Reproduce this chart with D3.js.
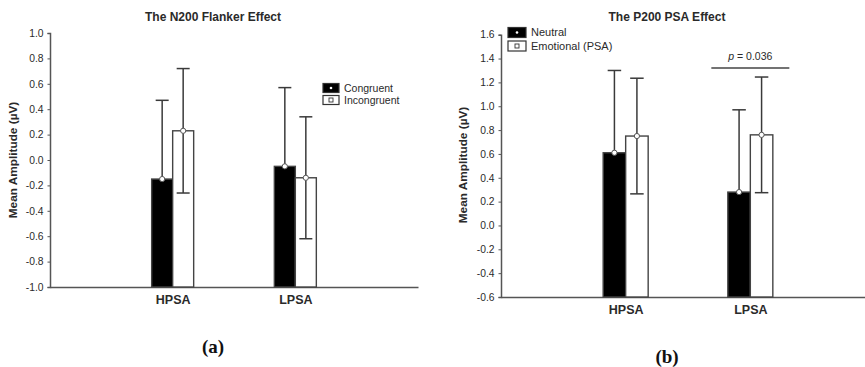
<!DOCTYPE html>
<html><head><meta charset="utf-8">
<script src="https://cdn.jsdelivr.net/npm/d3@7"></script>
<style>
html,body{margin:0;padding:0;background:#fff;}
svg{display:block;font-family:"Liberation Sans",Arial,sans-serif;}
</style></head>
<body>
<svg id="chart" width="865" height="367"></svg>
<script>
// ---------- data ----------
const groups = ["HPSA", "LPSA"];

// Panel (a): The N200 Flanker Effect
const n200Series = ["Congruent", "Incongruent"];
const n200Congruent = [-0.15, -0.05];
const n200CongruentErr = [0.62, 0.62];
const n200Incongruent = [0.23, -0.14];
const n200IncongruentErr = [0.49, 0.48];
const n200Ticks = [-1.0, -0.8, -0.6, -0.4, -0.2, 0.0, 0.2, 0.4, 0.6, 0.8, 1.0];
const n200TickLabels = ["-1.0", "-0.8", "-0.6", "-0.4", "-0.2", "0.0", "0.2", "0.4", "0.6", "0.8", "1.0"];

// Panel (b): The P200 PSA Effect
const p200Series = ["Neutral", "Emotional (PSA)"];
const p200Neutral = [0.61, 0.28];
const p200NeutralErr = [0.69, 0.69];
const p200Emotional = [0.75, 0.76];
const p200EmotionalErr = [0.485, 0.485];
const p200Ticks = [-0.6, -0.4, -0.2, 0.0, 0.2, 0.4, 0.6, 0.8, 1.0, 1.2, 1.4, 1.6];
const p200TickLabels = ["-0.6", "-0.4", "-0.2", "0.0", "0.2", "0.4", "0.6", "0.8", "1.0", "1.2", "1.4", "1.6"];
const p200Sig = { label: "= 0.036", group: "LPSA" };

const yLabel = "Mean Amplitude (µV)";

// ---------- drawing ----------
const svg = d3.select("#chart");
const TXT = "#2a2a2a";
const AX = "#555";
const ERR = "#3a3a3a";

function panel(cfg) {
  const g = svg.append("g");
  const x = d3.scalePoint().domain(groups).range([cfg.x0, cfg.x1]).padding(1);
  const y = d3.scaleLinear().domain(cfg.domain).range([cfg.yBottom, cfg.yTop]);

  // title
  g.append("text").attr("x", cfg.titleX).attr("y", 21)
    .attr("text-anchor", "middle").attr("font-weight", "bold")
    .attr("font-size", "12px").attr("fill", TXT).text(cfg.title);

  // y axis
  const yAxis = d3.axisLeft(y).tickValues(cfg.ticks).tickSize(2.5).tickPadding(4)
    .tickFormat((d, i) => cfg.tickLabels[i]);
  const ya = g.append("g").attr("transform", `translate(${cfg.x0},0)`).call(yAxis);
  ya.select(".domain").attr("stroke", AX).attr("stroke-width", 1.5);
  ya.selectAll(".tick line").attr("stroke", AX);
  ya.selectAll(".tick text").attr("font-size", "10.3px").attr("fill", TXT)
    .attr("font-family", "Liberation Sans, Arial, sans-serif");

  // x axis baseline
  const xAxis = d3.axisBottom(x).tickSize(0).tickPadding(8);
  const xa = g.append("g").attr("transform", `translate(0,${cfg.yBottom})`).call(xAxis);
  xa.select(".domain").attr("stroke", AX).attr("stroke-width", 1.5);
  xa.selectAll(".tick text").attr("font-size", "12.5px").attr("font-weight", "bold")
    .attr("fill", TXT).attr("font-family", "Liberation Sans, Arial, sans-serif");

  // y label
  g.append("text")
    .attr("transform", `translate(${cfg.yLabelX},${cfg.yLabelY}) rotate(-90)`)
    .attr("text-anchor", "middle").attr("font-weight", "bold")
    .attr("font-size", "11.8px").attr("fill", TXT).text(yLabel);

  // bars
  const inner = d3.scaleBand().domain(cfg.series).range([-cfg.bw, cfg.bw]).padding(0);
  const fills = ["#000", "#fff"];
  cfg.values.forEach((vals, si) => {
    const s = cfg.series[si];
    groups.forEach((grp, gi) => {
      const bx = x(grp) + inner(s);
      const w = inner.bandwidth();
      const v = vals[gi];
      const cx = bx + w / 2;
      g.append("rect").attr("x", bx).attr("y", y(v)).attr("width", w)
        .attr("height", y(cfg.domain[0]) - y(v))
        .attr("fill", fills[si]).attr("stroke", "#444").attr("stroke-width", 1.4);
      // error bar
      const e = cfg.errs[si][gi];
      const cap = cfg.cap;
      const lowCol = si === 0 ? "#000" : ERR;
      g.append("line").attr("x1", cx).attr("x2", cx).attr("y1", y(v)).attr("y2", y(v - e))
        .attr("stroke", lowCol).attr("stroke-width", 1.5);
      g.append("line").attr("x1", cx - cap / 2).attr("x2", cx + cap / 2)
        .attr("y1", y(v - e)).attr("y2", y(v - e)).attr("stroke", lowCol).attr("stroke-width", 1.5);
      g.append("line").attr("x1", cx).attr("x2", cx).attr("y1", y(v)).attr("y2", y(v + e))
        .attr("stroke", ERR).attr("stroke-width", 1.5);
      g.append("line").attr("x1", cx - cap / 2).attr("x2", cx + cap / 2)
        .attr("y1", y(v + e)).attr("y2", y(v + e)).attr("stroke", ERR).attr("stroke-width", 1.5);
      g.append("circle").attr("cx", cx).attr("cy", y(v)).attr("r", 2.6)
        .attr("fill", "#fff").attr("stroke", "#555").attr("stroke-width", 1);
    });
  });

  // legend
  cfg.series.forEach((s, i) => {
    const ly = cfg.legY + i * cfg.legDy;
    g.append("rect").attr("x", cfg.legX).attr("y", ly - cfg.legH / 2)
      .attr("width", cfg.legW).attr("height", cfg.legH)
      .attr("fill", fills[i]).attr("stroke", "#333").attr("stroke-width", 1.2);
    if (i === 0) {
      g.append("circle").attr("cx", cfg.legX + cfg.legW / 2).attr("cy", ly).attr("r", 1.3).attr("fill", "#fff");
    } else {
      g.append("rect").attr("x", cfg.legX + cfg.legW / 2 - 2).attr("y", ly - 2)
        .attr("width", 4).attr("height", 4).attr("fill", "#fff").attr("stroke", "#333").attr("stroke-width", 0.9);
    }
    g.append("text").attr("x", cfg.legX + cfg.legW + 5).attr("y", ly).attr("dy", "0.35em")
      .attr("font-size", cfg.legFont).attr("fill", TXT).text(s);
  });

  // panel letter
  g.append("text").attr("x", cfg.titleX).attr("y", cfg.letterY)
    .attr("text-anchor", "middle").attr("font-family", "Liberation Serif, Times New Roman, serif")
    .attr("font-weight", "bold").attr("font-size", "19px").attr("fill", "#111").text(cfg.letter);

  return { g, x, y, inner };
}

panel({
  title: "The N200 Flanker Effect", titleX: 213,
  x0: 50, x1: 418, yTop: 33, yBottom: 287, domain: [-1, 1],
  ticks: n200Ticks, tickLabels: n200TickLabels,
  yLabelX: 17, yLabelY: 160,
  series: n200Series, values: [n200Congruent, n200Incongruent], errs: [n200CongruentErr, n200IncongruentErr],
  bw: 21, cap: 13,
  legX: 323, legY: 88, legDy: 12, legW: 16, legH: 9, legFont: "10.5px",
  letter: "(a)", letterY: 353
});

const pb = panel({
  title: "The P200 PSA Effect", titleX: 667,
  x0: 501, x1: 875, yTop: 34.7, yBottom: 297, domain: [-0.6, 1.6],
  ticks: p200Ticks, tickLabels: p200TickLabels,
  yLabelX: 467, yLabelY: 165,
  series: p200Series, values: [p200Neutral, p200Emotional], errs: [p200NeutralErr, p200EmotionalErr],
  bw: 22.5, cap: 13.5,
  legX: 508, legY: 32.5, legDy: 13.5, legW: 18, legH: 10, legFont: "11px",
  letter: "(b)", letterY: 363
});

// significance marker in panel (b)
{
  const cx = pb.x(p200Sig.group);
  const lineY = pb.y(1.32);
  pb.g.append("line").attr("x1", cx - 39).attr("x2", cx + 39).attr("y1", lineY).attr("y2", lineY)
    .attr("stroke", "#444").attr("stroke-width", 1.5);
  const t = pb.g.append("text").attr("x", cx).attr("y", lineY - 8)
    .attr("text-anchor", "middle").attr("font-size", "10.5px").attr("fill", TXT);
  t.append("tspan").attr("font-style", "italic").text("p");
  t.append("tspan").text(" " + p200Sig.label);
}
</script>
</body></html>
